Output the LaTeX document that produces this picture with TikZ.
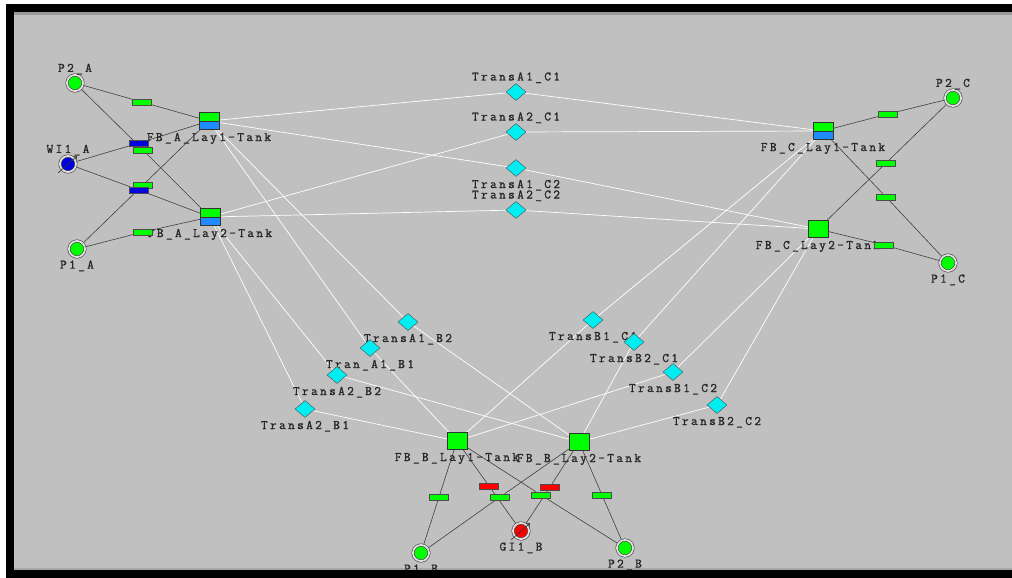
\documentclass[tikz,border=0pt]{standalone}
\usepackage{fontspec}
\newfontfamily\labelfont{Latin Modern Mono}[LetterSpace=18,FakeBold=1.2]
\usepackage{tikz}
\usetikzlibrary{shapes.geometric,backgrounds,arrows.meta}

\definecolor{canvas}{RGB}{192,192,192}
\definecolor{simgreen}{RGB}{0,255,0}
\definecolor{simblue}{RGB}{0,0,225}
\definecolor{simsky}{RGB}{30,140,255}
\definecolor{simcyan}{RGB}{0,238,242}
\definecolor{simred}{RGB}{255,0,0}

\begin{document}
\begin{tikzpicture}[x=1pt,y=-1pt,
    every label/.style={font=\labelfont\fontsize{13}{13}\selectfont,text=black!85,
                        inner sep=1pt,yshift=-1.5pt},
    label distance=0.5pt,
    well node/.style={circle,draw=black!75,double=black!12,double distance=1.8pt,
                      line width=0.6pt,minimum size=16pt,inner sep=0pt},
    tank node/.style={rectangle,draw=black!80,fill=simgreen,minimum width=20pt,
                      minimum height=17pt,inner sep=0pt},
    split tank/.style={tank node,path picture={
        \fill[simsky] (path picture bounding box.west) rectangle (path picture bounding box.south east);
        \draw[black!80] (path picture bounding box.west) -- (path picture bounding box.east);}},
    trans node/.style={diamond,draw=black!70,fill=simcyan,minimum width=20pt,
                       minimum height=17pt,inner sep=0pt},
    valve node/.style={rectangle,draw=black!70,minimum width=19pt,minimum height=6pt,inner sep=0pt},
    pipe/.style={draw=black!75,line width=0.6pt},
    link/.style={draw=white,line width=0.7pt}]

  \useasboundingbox (0,0) rectangle (1012,578);

  % window frame and canvas
  \begin{scope}[on background layer]
    \fill[white] (0,0) rectangle (1012,578);
    \fill[black] (6,4) rectangle (1012,578);
    \fill[black!40] (14,12) rectangle (1012,15);
    \fill[canvas] (14,15) rectangle (1012,569);
    \fill[black!35] (14,568) rectangle (1012,569.5);
  \end{scope}

  % field A
  \node[well node,fill=simgreen,label=above:P2\_A] (P2A) at (75,83) {};
  \node[well node,fill=simblue,label=above:WI1\_A] (WIA) at (68,164) {};
  \node[well node,fill=simgreen,label=below:P1\_A] (P1A) at (77,249) {};
  \node[split tank,label=below:FB\_A\_Lay1-Tank] (AL1) at (209,121) {};
  \node[split tank,label=below:FB\_A\_Lay2-Tank] (AL2) at (210,217) {};

  \node[valve node,fill=simgreen] (vA1) at (142,102) {};
  \node[valve node,fill=simblue]  (vA2) at (139,143) {};
  \node[valve node,fill=simgreen] (vA3) at (143,150) {};
  \node[valve node,fill=simgreen] (vA4) at (143,185) {};
  \node[valve node,fill=simblue]  (vA5) at (139,190) {};
  \node[valve node,fill=simgreen] (vA6) at (143,232) {};

  % field C
  \node[well node,fill=simgreen,label=above:P2\_C] (P2C) at (953,98) {};
  \node[well node,fill=simgreen,label=below:P1\_C] (P1C) at (948,263) {};
  \node[split tank,label=below:FB\_C\_Lay1-Tank] (CL1) at (823,131) {};
  \node[tank node,label=below:FB\_C\_Lay2-Tank] (CL2) at (818,229) {};

  \node[valve node,fill=simgreen] (vC1) at (888,114) {};
  \node[valve node,fill=simgreen] (vC2) at (886,163) {};
  \node[valve node,fill=simgreen] (vC3) at (886,197) {};
  \node[valve node,fill=simgreen] (vC4) at (884,245) {};

  % field B
  \node[tank node,label=below:FB\_B\_Lay1-Tank] (BL1) at (457,441) {};
  \node[tank node,label=below:FB\_B\_Lay2-Tank] (BL2) at (579,442) {};
  \node[well node,fill=simgreen,label=below:P1\_B] (P1B) at (421,553) {};
  \node[well node,fill=simred,label=below:GI1\_B] (GIB) at (521,531) {};
  \node[well node,fill=simgreen,label=below:P2\_B] (P2B) at (625,548) {};

  \node[valve node,fill=simgreen] (vB1) at (439,497) {};
  \node[valve node,fill=simred]   (vB2) at (489,486) {};
  \node[valve node,fill=simgreen] (vB3) at (500,497) {};
  \node[valve node,fill=simgreen] (vB4) at (541,495) {};
  \node[valve node,fill=simred]   (vB5) at (550,487) {};
  \node[valve node,fill=simgreen] (vB6) at (602,495) {};

  % transfers between tanks
  \node[trans node,label=above:TransA1\_C1] (tA1C1) at (516,92) {};
  \node[trans node,label=above:TransA2\_C1] (tA2C1) at (516,132) {};
  \node[trans node,label=below:TransA1\_C2] (tA1C2) at (516,168) {};
  \node[trans node,label=above:TransA2\_C2] (tA2C2) at (516,210) {};
  \node[trans node,label=below:TransA1\_B2] (tA1B2) at (408,322) {};
  \node[trans node,label=below:Tran\_A1\_B1] (tA1B1) at (370,348) {};
  \node[trans node,label=below:TransA2\_B2] (tA2B2) at (337,375) {};
  \node[trans node,label=below:TransA2\_B1] (tA2B1) at (305,409) {};
  \node[trans node,label=below:TransB1\_C1] (tB1C1) at (593,320) {};
  \node[trans node,label=below:TransB2\_C1] (tB2C1) at (634,342) {};
  \node[trans node,label=below:TransB1\_C2] (tB1C2) at (673,372) {};
  \node[trans node,label=below:TransB2\_C2] (tB2C2) at (717,405) {};

  \begin{scope}[on background layer]
    % well connections
    \draw[pipe] (P2A) -- (vA1) -- (AL1);
    \draw[pipe] (P2A) -- (vA3) -- (AL2);
    \draw[pipe] (WIA) -- (vA2) -- (AL1);
    \draw[pipe] (WIA) -- (vA5) -- (AL2);
    \draw[pipe] (P1A) -- (vA4) -- (AL1);
    \draw[pipe] (P1A) -- (vA6) -- (AL2);

    \draw[pipe] (CL1) -- (vC1) -- (P2C);
    \draw[pipe] (CL2) -- (vC2) -- (P2C);
    \draw[pipe] (CL1) -- (vC3) -- (P1C);
    \draw[pipe] (CL2) -- (vC4) -- (P1C);

    \draw[pipe] (BL1) -- (vB1) -- (P1B);
    \draw[pipe] (BL1) -- (vB2) -- (GIB);
    \draw[pipe] (BL1) -- (vB4) -- (P2B);
    \draw[pipe] (BL2) -- (vB3) -- (P1B);
    \draw[pipe] (BL2) -- (vB5) -- (GIB);
    \draw[pipe] (BL2) -- (vB6) -- (P2B);

    % tank to tank transfers
    \foreach \from/\via/\to in {AL1/tA1C1/CL1, AL2/tA2C1/CL1, AL1/tA1C2/CL2, AL2/tA2C2/CL2,
                                AL1/tA1B2/BL2, AL1/tA1B1/BL1, AL2/tA2B2/BL2, AL2/tA2B1/BL1,
                                BL1/tB1C1/CL1, BL2/tB2C1/CL1, BL1/tB1C2/CL2, BL2/tB2C2/CL2}
      \draw[link] (\from) -- (\via) -- (\to);
  \end{scope}

  % injector marks
  \foreach \w in {WIA,GIB}
    \draw[black!80,line width=0.6pt,-{Straight Barb[length=3pt,width=5pt]}]
      ([shift={(-10,9)}]\w.center) -- ([shift={(9,-8)}]\w.center);

  % bottom edge of the window
  \fill[black] (6,570) rectangle (1012,578);
\end{tikzpicture}
\end{document}
